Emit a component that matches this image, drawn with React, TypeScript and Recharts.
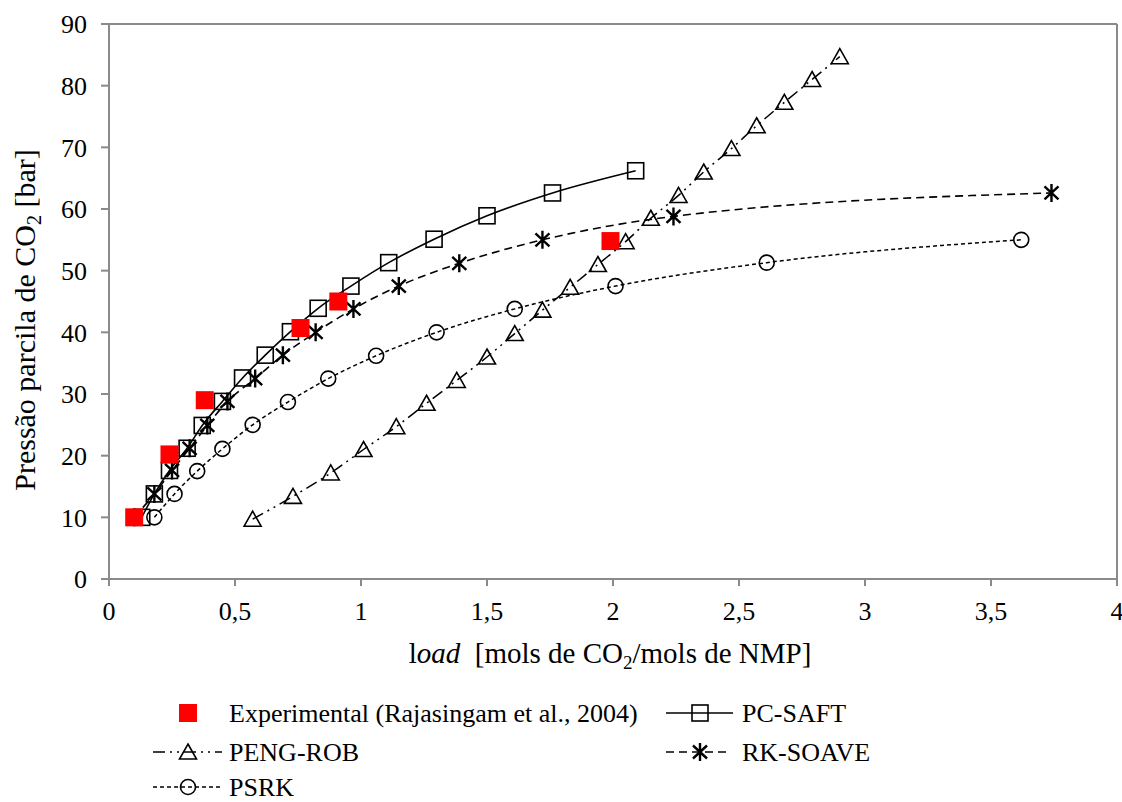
import React from 'react';
import { ComposedChart, Line, Scatter, XAxis, YAxis, ReferenceLine } from 'recharts';

const xTicks = [0, 0.5, 1, 1.5, 2, 2.5, 3, 3.5, 4];
const yTicks = [0, 10, 20, 30, 40, 50, 60, 70, 80, 90];

// Experimental (Rajasingam et al., 2004)
const expLoad = [0.1, 0.24, 0.38, 0.76, 0.91, 1.99];
const expPress = [10, 20.2, 29, 40.7, 45, 54.8];

// PC-SAFT
const pcLoad = [0.13, 0.18, 0.24, 0.31, 0.37, 0.45, 0.53, 0.62, 0.72, 0.83, 0.96, 1.11, 1.29, 1.5, 1.76, 2.09];
const pcPress = [10, 13.8, 17.6, 21.2, 24.9, 28.8, 32.6, 36.3, 40.1, 43.9, 47.5, 51.3, 55.1, 58.9, 62.6, 66.2];

// PENG-ROB
const prLoad = [0.57, 0.73, 0.88, 1.01, 1.14, 1.26, 1.38, 1.5, 1.61, 1.72, 1.83, 1.94, 2.05, 2.15, 2.26, 2.36, 2.47, 2.57, 2.68, 2.79, 2.9];
const prPress = [9.7, 13.4, 17.2, 21, 24.7, 28.5, 32.2, 36, 39.8, 43.6, 47.3, 51, 54.7, 58.5, 62.2, 66, 69.8, 73.5, 77.3, 81, 84.7];

// RK-SOAVE
const rkLoad = [0.1, 0.18, 0.25, 0.32, 0.39, 0.47, 0.58, 0.69, 0.82, 0.97, 1.15, 1.39, 1.72, 2.24, 3.74];
const rkPress = [10, 13.8, 17.6, 21.2, 24.9, 28.8, 32.5, 36.3, 40, 43.8, 47.5, 51.2, 55, 58.8, 62.6];

// PSRK
const psLoad = [0.18, 0.26, 0.35, 0.45, 0.57, 0.71, 0.87, 1.06, 1.3, 1.61, 2.01, 2.61, 3.62];
const psPress = [10, 13.8, 17.5, 21.1, 25, 28.7, 32.5, 36.2, 40, 43.8, 47.5, 51.3, 55];

const toPoints = (xs: number[], ys: number[]) => xs.map((x, i) => ({ x, y: ys[i] }));

const expData = toPoints(expLoad, expPress);
const pcData = toPoints(pcLoad, pcPress);
const prData = toPoints(prLoad, prPress);
const rkData = toPoints(rkLoad, rkPress);
const psData = toPoints(psLoad, psPress);

const FONT = "'Liberation Serif', 'Times New Roman', serif";
const AXIS = '#8a8a8a';
const W = 1122;
const H = 802;

const DASH_PR = '12 5 2 5 2 5';
const DASH_RK = '8 5';
const DASH_PS = '4 3';

function squareMark(cx: number, cy: number, key?: string) {
    return <rect key={key} x={cx - 8} y={cy - 8} width={16} height={16} fill="none" stroke="#000" strokeWidth={1.6} strokeDasharray="none" />;
}
function triangleMark(cx: number, cy: number, key?: string) {
    return (
        <path key={key} d={`M${cx},${cy - 8} L${cx + 8.5},${cy + 7} L${cx - 8.5},${cy + 7} Z`}
            fill="none" stroke="#000" strokeWidth={1.6} strokeDasharray="none" />
    );
}
function circleMark(cx: number, cy: number, key?: string) {
    return <circle key={key} cx={cx} cy={cy} r={7.5} fill="none" stroke="#000" strokeWidth={1.6} strokeDasharray="none" />;
}
function starMark(cx: number, cy: number, key?: string) {
    const dx = 7, dy = 4.5;
    return (
        <path key={key}
            d={`M${cx},${cy - 9} L${cx},${cy + 9} M${cx - dx},${cy - dy - 2} L${cx + dx},${cy + dy + 2} M${cx - dx},${cy + dy + 2} L${cx + dx},${cy - dy - 2}`}
            stroke="#000" strokeWidth={2.4} fill="none" strokeDasharray="none" />
    );
}

const SquareDot = (p: any) => squareMark(p.cx, p.cy, `sq-${p.index}`);
const TriangleDot = (p: any) => triangleMark(p.cx, p.cy, `tr-${p.index}`);
const CircleDot = (p: any) => circleMark(p.cx, p.cy, `ci-${p.index}`);
const StarDot = (p: any) => starMark(p.cx, p.cy, `st-${p.index}`);
const RedSquare = (p: any) => <rect x={p.cx - 9} y={p.cy - 9} width={18} height={18} fill="#ff0000" />;

const YTitle = () => {
    const x = 35, y = 320;
    return (
        <text x={x} y={y} transform={`rotate(-90, ${x}, ${y})`} textAnchor="middle" fontFamily={FONT} fontSize={30} fill="#000">
            <tspan>Pressão parcila de CO</tspan>
            <tspan fontSize={20} dy={6}>2</tspan>
            <tspan dy={-6}> [bar]</tspan>
        </text>
    );
};

const XTitle = () => (
    <text x={610} y={663} textAnchor="middle" fontFamily={FONT} fontSize={29} fill="#000" style={{ whiteSpace: 'pre' }}>
        <tspan>l</tspan>
        <tspan fontStyle="italic">oad</tspan>
        <tspan>{'  [mols de CO'}</tspan>
        <tspan fontSize={19} dy={6}>2</tspan>
        <tspan dy={-6}>/mols de NMP]</tspan>
    </text>
);

const LegendLine = ({ x1, x2, y, dash }: { x1: number; x2: number; y: number; dash?: string }) => (
    <line x1={x1} x2={x2} y1={y} y2={y} stroke="#000" strokeWidth={1.5} strokeDasharray={dash} />
);

function LegendOverlay() {
    const r1 = 713, r2 = 752, r3 = 787;
    const tOff = 9;
    return (
        <svg width={W} height={H} style={{ position: 'absolute', left: 0, top: 0, pointerEvents: 'none' }}>
            <rect x={179} y={r1 - 9} width={18} height={18} fill="#ff0000" />
            <text x={229} y={r1 + tOff} fontFamily={FONT} fontSize={26}>Experimental (Rajasingam et al., 2004)</text>

            <LegendLine x1={666} x2={733} y={r1} />
            {squareMark(700, r1)}
            <text x={742} y={r1 + tOff} fontFamily={FONT} fontSize={26}>PC-SAFT</text>

            <LegendLine x1={153} x2={222} y={r2} dash={DASH_PR} />
            {triangleMark(188, r2)}
            <text x={229} y={r2 + tOff} fontFamily={FONT} fontSize={26}>PENG-ROB</text>

            <LegendLine x1={666} x2={727} y={r2} dash={DASH_RK} />
            {starMark(700, r2)}
            <text x={742} y={r2 + tOff} fontFamily={FONT} fontSize={26}>RK-SOAVE</text>

            <LegendLine x1={153} x2={222} y={r3} dash={DASH_PS} />
            {circleMark(188, r3)}
            <text x={229} y={r3 + tOff} fontFamily={FONT} fontSize={26}>PSRK</text>
        </svg>
    );
}

export default function App() {
    return (
        <div style={{ position: 'absolute', left: 0, top: 0, width: W, height: H, background: '#fff', overflow: 'hidden' }}>
            <ComposedChart width={W} height={H} margin={{ top: 24, right: W - 1117, left: 0, bottom: H - 579 - 100 }}>
                <XAxis
                    type="number"
                    dataKey="x"
                    domain={[0, 4]}
                    ticks={xTicks}
                    interval={0}
                    allowDataOverflow
                    height={100}
                    tickSize={7}
                    tickMargin={16}
                    axisLine={{ stroke: AXIS, strokeWidth: 2 }}
                    tickLine={{ stroke: AXIS, strokeWidth: 2 }}
                    tick={{ fill: '#000', fontSize: 26, fontFamily: FONT }}
                    tickFormatter={(v: number) => String(v).replace('.', ',')}
                    label={<XTitle />}
                />
                <YAxis
                    type="number"
                    dataKey="y"
                    domain={[0, 90]}
                    ticks={yTicks}
                    interval={0}
                    allowDataOverflow
                    width={109}
                    tickSize={8}
                    tickMargin={14}
                    axisLine={{ stroke: AXIS, strokeWidth: 2 }}
                    tickLine={{ stroke: AXIS, strokeWidth: 2 }}
                    tick={{ fill: '#000', fontSize: 26, fontFamily: FONT }}
                    label={<YTitle />}
                />
                <ReferenceLine y={90} stroke={AXIS} strokeWidth={2} />
                <ReferenceLine x={4} stroke={AXIS} strokeWidth={2} />

                <Line data={psData} dataKey="y" type="monotone" stroke="#000" strokeWidth={1.5} strokeDasharray={DASH_PS} dot={CircleDot} activeDot={false} isAnimationActive={false} />
                <Line data={prData} dataKey="y" type="monotone" stroke="#000" strokeWidth={1.5} strokeDasharray={DASH_PR} dot={TriangleDot} activeDot={false} isAnimationActive={false} />
                <Line data={rkData} dataKey="y" type="monotone" stroke="#000" strokeWidth={1.6} strokeDasharray={DASH_RK} dot={StarDot} activeDot={false} isAnimationActive={false} />
                <Line data={pcData} dataKey="y" type="monotone" stroke="#000" strokeWidth={1.6} dot={SquareDot} activeDot={false} isAnimationActive={false} />
                <Scatter data={expData} dataKey="y" shape={RedSquare} isAnimationActive={false} />
            </ComposedChart>
            <LegendOverlay />
        </div>
    );
}
